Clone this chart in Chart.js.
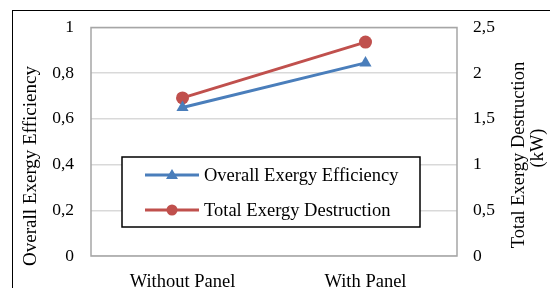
<html lang="en">
<head>
<meta charset="UTF-8">
<title>Exergy Chart</title>
<script src="https://cdn.jsdelivr.net/npm/chart.js"></script>
<style>
    body {
        margin: 0;
        padding: 0;
        background: white;
        overflow: hidden;
    }
    .frame {
        position: absolute;
        left: 12px;
        top: 10px;
        width: 600px;
        height: 400px;
        border: 1.5px solid #000;
    }
    .chart {
        position: absolute;
        left: 0;
        top: 0;
        width: 550px;
        height: 288px;
    }
</style>
</head>
<body>
<div class="frame"></div>
<div class="chart"><canvas id="exergyChart" width="550" height="288"></canvas></div>
<script>
const categories = ['Without Panel', 'With Panel'];
const efficiency = [0.65, 0.845];
const destruction = [1.73, 2.34];

const FONT = 'Liberation Serif, Times New Roman, serif';

function comma(v) {
    return String(Math.round(v * 10) / 10).replace('.', ',');
}

function rotatedText(ctx, text, x, y, size) {
    ctx.save();
    ctx.translate(x, y);
    ctx.rotate(-Math.PI / 2);
    ctx.font = size + 'px ' + FONT;
    ctx.fillStyle = '#000';
    ctx.textAlign = 'center';
    ctx.textBaseline = 'middle';
    ctx.fillText(text, 0, 0);
    ctx.restore();
}

// plot outline, axis titles and the legend box inside the plot
const extras = {
    id: 'extras',
    beforeDatasetsDraw(chart) {
        const a = chart.chartArea, ctx = chart.ctx;
        ctx.save();
        ctx.strokeStyle = '#a6a6a6';
        ctx.lineWidth = 1.5;
        ctx.strokeRect(a.left, a.top, a.right - a.left, a.bottom - a.top);
        ctx.restore();
    },
    afterDraw(chart) {
        const ctx = chart.ctx;
        rotatedText(ctx, 'Overall Exergy Efficiency', 31, 166, 19);
        rotatedText(ctx, 'Total Exergy Destruction', 519, 155, 18.5);
        rotatedText(ctx, '(kW)', 538, 148, 18.5);

        ctx.save();
        ctx.fillStyle = '#fff';
        ctx.fillRect(122, 157, 298, 70);
        ctx.strokeStyle = '#000';
        ctx.lineWidth = 1.5;
        ctx.strokeRect(122, 157, 298, 70);
        ctx.font = '18.5px ' + FONT;
        ctx.textBaseline = 'middle';
        chart.data.datasets.forEach((ds, i) => {
            const y = 175 + i * 35;
            ctx.strokeStyle = ds.borderColor;
            ctx.lineWidth = 3;
            ctx.beginPath();
            ctx.moveTo(145, y);
            ctx.lineTo(199, y);
            ctx.stroke();
            ctx.fillStyle = ds.borderColor;
            ctx.beginPath();
            if (ds.pointStyle === 'triangle') {
                ctx.moveTo(172, y - 6);
                ctx.lineTo(178, y + 4);
                ctx.lineTo(166, y + 4);
                ctx.closePath();
            } else {
                ctx.arc(172, y, 5.5, 0, Math.PI * 2);
            }
            ctx.fill();
            ctx.fillStyle = '#000';
            ctx.fillText(ds.label, 204, y + 1);
        });
        ctx.restore();
    }
};

new Chart(document.getElementById('exergyChart').getContext('2d'), {
    type: 'line',
    data: {
        labels: categories,
        datasets: [{
            label: 'Overall Exergy Efficiency',
            data: efficiency,
            yAxisID: 'y',
            borderColor: '#4A7EBB',
            backgroundColor: '#4A7EBB',
            borderWidth: 3,
            pointStyle: 'triangle',
            pointRadius: 7,
            pointBorderWidth: 0
        }, {
            label: 'Total Exergy Destruction',
            data: destruction,
            yAxisID: 'y1',
            borderColor: '#C0504D',
            backgroundColor: '#C0504D',
            borderWidth: 3,
            pointStyle: 'circle',
            pointRadius: 6.5,
            pointBorderWidth: 0
        }]
    },
    options: {
        responsive: false,
        animation: false,
        layout: { padding: { top: 26 } },
        plugins: {
            legend: { display: false },
            tooltip: { enabled: false }
        },
        scales: {
            x: {
                offset: true,
                grid: { display: false },
                border: { display: false },
                ticks: { color: '#000', font: { family: FONT, size: 18.5 }, padding: 7 },
                afterFit(s) { s.height = 32; }
            },
            y: {
                position: 'left',
                min: 0,
                max: 1,
                ticks: {
                    stepSize: 0.2,
                    color: '#000',
                    font: { family: FONT, size: 17.5 },
                    padding: 17,
                    callback: v => comma(v)
                },
                grid: { color: '#d9d9d9', lineWidth: 1.5, drawTicks: false },
                border: { display: false },
                afterFit(s) { s.width = 91; }
            },
            y1: {
                position: 'right',
                min: 0,
                max: 2.5,
                ticks: {
                    stepSize: 0.5,
                    color: '#000',
                    font: { family: FONT, size: 17.5 },
                    padding: 16,
                    callback: v => comma(v)
                },
                grid: { display: false, drawTicks: false },
                border: { display: false },
                afterFit(s) { s.width = 93; }
            }
        }
    },
    plugins: [extras]
});
</script>
</body>
</html>
